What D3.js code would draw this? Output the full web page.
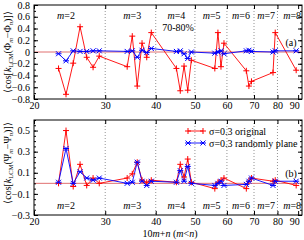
<!DOCTYPE html>
<html>
<head>
<meta charset="utf-8">
<script src="https://cdn.jsdelivr.net/npm/d3@7"></script>
<style>
  body { margin: 0; background: #fff; }
  svg text { font-family: "Liberation Serif", "Times New Roman", serif; font-size: 10px; fill: #000; }
</style>
</head>
<body>
<div id="chart"></div>
<script>

/***** Data  ***************************/
var pairIndex = [23, 24, 25, 26, 27, 28, 29,
                 34, 35, 36, 37, 38, 39,
                 45, 46, 47, 48, 49,
                 56, 57, 58, 59,
                 67, 68, 69,
                 78, 79,
                 89];

// panel (a): cos[k(Phi_m - Phi_n)]
var origA = [-0.28, -0.72, -0.19, 0.43, -0.09, -0.26, -0.07,
             -0.25, 0.27, -0.58, 0.15, -0.09, 0.33,
             -0.28, -0.66, -0.24, -0.65, -0.14,
             -0.28, 0.33, -0.25, 0.15,
             -0.32, -0.58, -0.50,
             -0.35, 0.33,
             -0.31];
var randA = [-0.03, -0.15, 0.02, 0.01, 0.01, 0.02, 0.02,
             0.01, 0.02, -0.09, 0.03, -0.01, 0.06,
             0.01, 0.02, -0.03, -0.11, 0.00,
             -0.02, 0.00, 0.02, -0.03,
             0.02, 0.03, 0.01,
             0.00, 0.02,
             0.02];

// panel (b): cos[k(Psi_m - Psi_n)]
var origB = [0.00, 0.50, -0.03, 0.18, -0.02, 0.05, 0.00,
             0.05, 0.09, 0.20, 0.03, 0.01, 0.03,
             0.01, 0.18, 0.06, 0.23, 0.01,
             -0.05, 0.01, 0.03, 0.05,
             -0.05, 0.02, 0.05,
             0.02, 0.03,
             -0.02];
var randB = [0.01, 0.33, 0.00, 0.11, 0.05, 0.03, 0.05,
             0.00, 0.01, 0.20, 0.02, -0.02, 0.02,
             0.01, 0.12, 0.02, 0.16, 0.00,
             -0.02, 0.00, 0.02, -0.02,
             -0.01, 0.02, 0.05,
             -0.02, 0.02,
             0.02];

var xTicks = [20, 30, 40, 50, 60, 70, 80, 90];
var mBounds = [30, 40, 50, 60, 70, 80];
var mNames = [2, 3, 4, 5, 6, 7, 8];
var mLabelAt = [24, 35, 45, 55, 65, 75, 87];
var seriesNames = ["\u03c3=0.3 original", "\u03c3=0.3 randomly plane"];

/***** Basic layout  ******/
var width = 304, height = 240;
var red = "#ff0000", blue = "#0000ff";

var svg = d3.select("#chart")
            .append("svg")
            .attr("width", width)
            .attr("height", height);

var x = d3.scaleLog()
          .domain([20, 92])
          .range([34, 302]);

var yA = d3.scaleLinear().domain([-0.8, 0.8]).range([99, 5]);
var yB = d3.scaleLinear().domain([-0.3, 0.6]).range([215, 120]);

/***** Markers  ******/
function plusMark(g, px, py, col){
    g.append("path")
     .attr("d", "M" + (px - 3) + "," + py + "h6M" + px + "," + (py - 3) + "v6")
     .attr("stroke", col).attr("stroke-width", 1).attr("fill", "none");
}
function starMark(g, px, py, col){
    g.append("path")
     .attr("d", "M" + (px - 2.5) + "," + (py - 2.5) + "l5,5M" + (px - 2.5) + "," + (py + 2.5) + "l5,-5" +
                "M" + (px - 3) + "," + py + "h6")
     .attr("stroke", col).attr("stroke-width", 1).attr("fill", "none");
}

/***** One panel  ******/
function buildPanel(y, minorStep, majorStep, orig, rand, tag, mY){
    var top = y.range()[1], bottom = y.range()[0];
    var left = x.range()[0], right = x.range()[1];
    var g = svg.append("g");

    // region separators
    g.selectAll(".sep")
     .data(mBounds)
     .enter()
     .append("line")
     .attr("x1", function(d){ return x(d); })
     .attr("x2", function(d){ return x(d); })
     .attr("y1", top).attr("y2", bottom)
     .attr("stroke", "#777")
     .attr("stroke-width", 0.8)
     .attr("stroke-dasharray", "1,2");

    // zero line
    g.append("line")
     .attr("x1", left).attr("x2", right)
     .attr("y1", y(0)).attr("y2", y(0))
     .attr("stroke", "#e07070")
     .attr("stroke-width", 1);

    var yMajor = d3.range(y.domain()[0], y.domain()[1] + 1e-9, majorStep);
    var yMinor = d3.range(y.domain()[0], y.domain()[1] + 1e-9, minorStep);

    g.append("g")
     .attr("transform", "translate(" + left + ",0)")
     .call(d3.axisLeft(y).tickValues(yMinor).tickSize(-2).tickFormat(""))
     .call(function(a){ a.select(".domain").remove(); });
    g.append("g")
     .attr("transform", "translate(" + left + ",0)")
     .call(d3.axisLeft(y).tickValues(yMajor).tickSize(-4).tickPadding(4)
           .tickFormat(function(d){ var v = Math.round(d * 10) / 10; return v === 0 ? "0" : d3.format(".1f")(v); }))
     .call(function(a){ a.select(".domain").remove(); });
    g.append("g")
     .attr("transform", "translate(" + right + ",0)")
     .call(d3.axisRight(y).tickValues(yMinor).tickSize(-2).tickFormat(""))
     .call(function(a){ a.select(".domain").remove(); });
    g.append("g")
     .attr("transform", "translate(" + right + ",0)")
     .call(d3.axisRight(y).tickValues(yMajor).tickSize(-4).tickFormat(""))
     .call(function(a){ a.select(".domain").remove(); });

    var xa = g.append("g")
     .attr("transform", "translate(0," + bottom + ")")
     .call(d3.axisBottom(x).tickValues(xTicks).tickSize(-4).tickPadding(3).tickFormat(d3.format("d")));
    xa.select(".domain").remove();
    xa.selectAll(".tick text").filter(function(d){ return d === 90; }).attr("dx", -4);
    g.append("g")
     .attr("transform", "translate(0," + top + ")")
     .call(d3.axisTop(x).tickValues(xTicks).tickSize(-4).tickFormat(""))
     .call(function(a){ a.select(".domain").remove(); });

    g.selectAll(".tick line").attr("stroke", "#000");
    g.selectAll(".tick text").style("font-family", "Liberation Serif").style("font-size", "10px");

    // frame
    g.append("rect")
     .attr("x", left).attr("y", top)
     .attr("width", right - left).attr("height", bottom - top)
     .attr("fill", "none").attr("stroke", "#000").attr("stroke-width", 1);

    // m labels
    g.selectAll(".mlab")
     .data(mNames)
     .enter()
     .append("text")
     .attr("x", function(d, i){ return x(mLabelAt[i]); })
     .attr("y", mY)
     .attr("text-anchor", "middle")
     .each(function(d){
         var t = d3.select(this);
         t.append("tspan").style("font-style", "italic").text("m");
         t.append("tspan").text("=" + d);
     });

    // series
    var lineOf = function(vals){
        return d3.line()
                 .x(function(d){ return x(d); })
                 .y(function(d, i){ return y(vals[i]); })(pairIndex);
    };
    g.append("path").attr("d", lineOf(orig)).attr("fill", "none").attr("stroke", red).attr("stroke-width", 0.9);
    g.append("path").attr("d", lineOf(rand)).attr("fill", "none").attr("stroke", blue).attr("stroke-width", 0.9);
    pairIndex.forEach(function(d, i){ plusMark(g, x(d), y(orig[i]), red); });
    pairIndex.forEach(function(d, i){ starMark(g, x(d), y(rand[i]), blue); });

    g.append("text")
     .attr("x", 291).attr("y", y(0) - 6)
     .attr("text-anchor", "middle")
     .text(tag);

    return g;
}

var gA = buildPanel(yA, 0.1, 0.2, origA, randA, "(a)", 18.5);
var gB = buildPanel(yB, 0.05, 0.2, origB, randB, "(b)", 208.5);

gA.append("text")
  .attr("x", 178).attr("y", 30.5)
  .attr("text-anchor", "middle")
  .text("70-80%");

/***** Y axis titles  ******/
function yTitle(cy, sym){
    var t = svg.append("text")
               .attr("transform", "translate(11," + cy + ") rotate(-90)")
               .attr("text-anchor", "middle");
    t.append("tspan").text("\u27e8cos[");
    t.append("tspan").style("font-style", "italic").text("k");
    t.append("tspan").attr("dy", 2).style("font-size", "6.5px").text("LCM");
    t.append("tspan").attr("dy", -2).text("(" + sym);
    t.append("tspan").attr("dy", 2).style("font-size", "6.5px").style("font-style", "italic").text("m");
    t.append("tspan").attr("dy", -2).text("\u2212" + sym);
    t.append("tspan").attr("dy", 2).style("font-size", "6.5px").style("font-style", "italic").text("n");
    t.append("tspan").attr("dy", -2).text(")]\u27e9");
}
yTitle(52, "\u03a6");
yTitle(163, "\u03a8");

/***** X axis title  ******/
var xt = svg.append("text")
            .attr("x", 170).attr("y", 237)
            .attr("text-anchor", "middle");
xt.append("tspan").text("10");
xt.append("tspan").style("font-style", "italic").text("m");
xt.append("tspan").text("+");
xt.append("tspan").style("font-style", "italic").text("n");
xt.append("tspan").text(" (");
xt.append("tspan").style("font-style", "italic").text("m");
xt.append("tspan").text("<");
xt.append("tspan").style("font-style", "italic").text("n");
xt.append("tspan").text(")");

/***** Legend  ******/
var legend = svg.append("g");
var legY = [131, 143];
seriesNames.forEach(function(name, i){
    var col = i === 0 ? red : blue;
    legend.append("line")
          .attr("x1", 188).attr("x2", 203)
          .attr("y1", legY[i]).attr("y2", legY[i])
          .attr("stroke", col).attr("stroke-width", 0.9);
    if (i === 0) { plusMark(legend, 188, legY[i], col); plusMark(legend, 203, legY[i], col); }
    else { starMark(legend, 188, legY[i], col); starMark(legend, 203, legY[i], col); }
    legend.append("text")
          .attr("x", 209).attr("y", legY[i] + 3.5)
          .text(name);
});

</script>
</body>
</html>
